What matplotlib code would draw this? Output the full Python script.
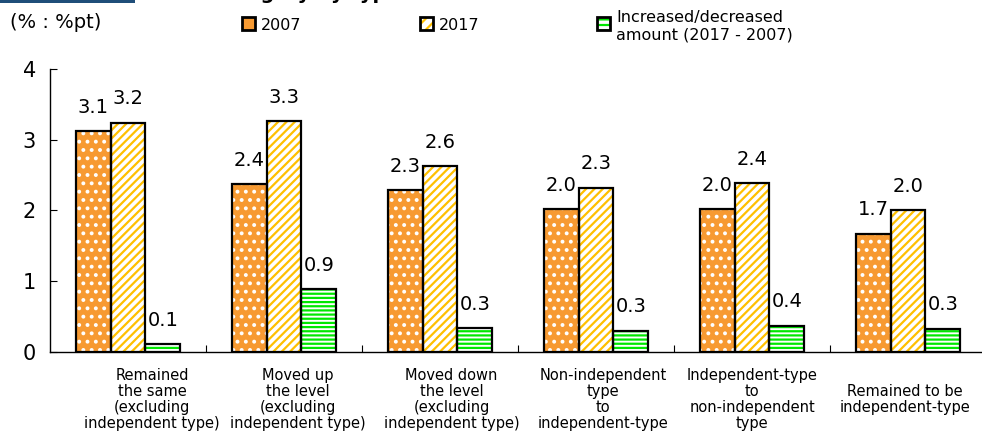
import numpy as np
import matplotlib.pyplot as plt
from matplotlib.patches import Rectangle

# Categories (multi-line labels as in the original)
categories = [
    "Remained\nthe same\n(excluding\nindependent type)",
    "Moved up\nthe level\n(excluding\nindependent type)",
    "Moved down\nthe level\n(excluding\nindependent type)",
    "Non-independent\ntype\nto\nindependent-type",
    "Independent-type\nto\nnon-independent\ntype",
    "Remained to be\nindependent-type",
]

# Series values (%, %pt)
vals_2007 = [3.12, 2.37, 2.29, 2.02, 2.02, 1.67]
vals_2017 = [3.24, 3.26, 2.63, 2.32, 2.39, 2.00]
vals_diff = [0.11, 0.89, 0.34, 0.30, 0.37, 0.33]

series_names = ["2007", "2017", "Increased/decreased\namount (2017 - 2007)"]

# Styles
orange = "#F79A32"
yellow = "#FFC000"
green = "#00E800"

plt.rcParams['font.family'] = ['DejaVu Sans']
plt.rcParams['hatch.linewidth'] = 1.6

fig = plt.figure(figsize=(9.82, 4.4), dpi=100)
ax = fig.add_axes([50 / 982, 88 / 440, 936 / 982, 283 / 440])

x = np.arange(len(categories))
w = 0.224

styles = [
    # (values, face, hatch, hatch colour)
    (vals_2007, orange, "..", "white"),
    (vals_2017, "white", "////", yellow),
    (vals_diff, "white", "----", green),
]

for i, (vals, face, hatch, hcol) in enumerate(styles):
    pos = x + (i - 1) * w
    # patterned fill
    ax.bar(pos, vals, w, color=face, hatch=hatch, edgecolor=hcol, linewidth=0, zorder=2)
    # black outline
    ax.bar(pos, vals, w, fill=False, edgecolor="black", linewidth=1.6, zorder=3)
    for px, v in zip(pos, vals):
        ax.text(px, v + 0.26, f"{v:.1f}", ha="center", va="baseline", fontsize=14, zorder=4)

ax.set_xlim(-0.5, len(categories) - 0.5)
ax.set_ylim(0, 4)
ax.set_yticks([0, 1, 2, 3, 4])
ax.tick_params(axis="y", direction="in", length=5, labelsize=15, pad=10)

# separators between groups on the x axis
ax.set_xticks(x[:-1] + 0.5)
ax.set_xticklabels([])
ax.tick_params(axis="x", direction="in", length=5)

ax.spines["top"].set_visible(False)
ax.spines["right"].set_visible(False)
for s in ["left", "bottom"]:
    ax.spines[s].set_linewidth(1.0)

# category labels (positioned like the original, slightly off the group centres)
label_x = [0.109, 0.265, 0.429, 0.591, 0.750, 0.913]
for lx, lab in zip(label_x, categories):
    ax.text(lx, -0.168, lab, transform=ax.transAxes, ha="center", va="center",
            fontsize=10.5, linespacing=1.1)

# unit label
fig.text(10 / 982, 1 - 22 / 440, "(% : %pt)", fontsize=14, va="center", ha="left")

# legend drawn by hand
leg_x = [242, 420, 597]
leg_styles = [(orange, ".", "white"), ("white", "///", yellow), ("white", "---", green)]
for lx, (face, hatch, hcol), name in zip(leg_x, leg_styles, series_names):
    r = Rectangle((lx / 982, 1 - 30 / 440), 13 / 982, 13 / 440, transform=fig.transFigure,
                  facecolor=face, hatch=hatch, edgecolor=hcol, linewidth=0)
    fig.add_artist(r)
    r2 = Rectangle((lx / 982, 1 - 30 / 440), 13 / 982, 13 / 440, transform=fig.transFigure,
                   fill=False, edgecolor="black", linewidth=2)
    fig.add_artist(r2)
    ty = 1 - 25 / 440 if "\n" not in name else 1 - 26 / 440
    fig.text((lx + 19) / 982, ty, name, fontsize=11.5, va="center", ha="left", linespacing=1.2)

# cut-off title strip at the very top
fig.add_artist(Rectangle((0, 1 - 3 / 440), 135 / 982, 3 / 440, transform=fig.transFigure,
                         facecolor="#1F4E79", edgecolor="none"))
fig.text(400 / 982, 1 + 1 / 440, "category by type", fontsize=14, fontweight="bold",
         ha="right", va="baseline")

fig.savefig("out.png", dpi=100)
